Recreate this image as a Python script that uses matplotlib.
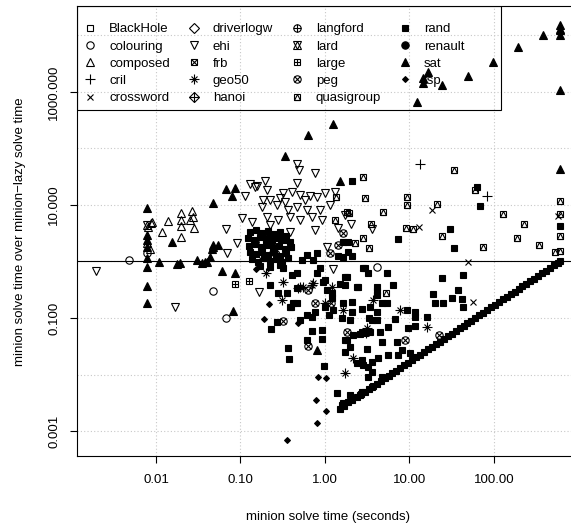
import matplotlib
matplotlib.use("Agg")
import matplotlib.pyplot as plt
from matplotlib.patches import Rectangle

plt.rcParams['font.family'] = ['Liberation Sans', 'DejaVu Sans']
plt.rcParams['font.size'] = 9.5

# ---- data (x = minion time, y = ratio) ----
blackhole_x = [0.2]
blackhole_y = [2.0]
colouring_x = [0.0048, 0.0078, 0.047, 0.067, 4.12]
colouring_y = [1.06, 1.41, 0.30, 0.1, 0.80]
composed_x = [0.0080, 0.0087, 0.0078, 0.0085, 0.0139, 0.0118, 0.0198, 0.0198,
              0.0198, 0.0198, 0.0267, 0.0274, 0.025, 0.0282, 0.009]
composed_y = [4.1, 4.8, 2.1, 1.66, 5.2, 3.33, 7.2, 5.4, 4.25, 2.7, 7.8, 6.1,
              5.4, 3.9, 5.0]
cril_x = [13.3, 82.6]
cril_y = [53, 14.4]
crossword_x = [18.5, 13.0, 49.2, 571, 56.4]
crossword_y = [8.2, 4.1, 0.98, 6.4, 0.192]
driverlogw_x = [0.25]
driverlogw_y = [1.5]
ehi_x = [0.00195, 0.0168, 0.166, 1.24, 0.466, 0.49, 0.76, 0.466, 0.13, 0.157,
         0.195, 0.206, 0.113, 0.318, 0.407, 0.51, 0.66, 1.0, 1.31, 0.185,
         0.223, 0.18, 0.27, 0.336, 0.466, 0.61, 0.80, 0.87, 0.104, 0.137,
         0.206, 0.278, 0.385, 0.51, 0.70, 0.92, 0.067, 0.091, 0.069, 1.06,
         2.03, 3.6, 0.148, 0.29, 0.58, 0.365, 1.15, 1.72, 1.42, 0.76, 0.385,
         0.223]
ehi_y = [0.68, 0.157, 0.29, 0.74, 53, 42, 37, 24.5, 23.5, 21.7,
         27, 18.4, 14.4, 16.3, 17, 15, 14.4, 16.3, 17, 12.3,
         12.3, 9.2, 10, 11.3, 9.2, 8.2, 13.9, 8.2, 5.9, 5.0,
         6.1, 5.4, 6.1, 5.4, 6.1, 5.4, 3.76, 2.1, 1.41, 1.8,
         4.6, 3.76, 20.8, 13.3, 12.3, 8.2, 10, 6.6, 3.9, 3.6, 3.33,
         4.4]
frb_x = [0.3]
frb_y = [2.5]
geo50_x = [0.2, 0.318, 0.31, 0.48, 0.70, 1.21, 1.63, 1.0, 3.14, 3.06, 3.7,
           2.14, 1.72, 7.72, 16.1, 0.51, 0.72, 0.55]
geo50_y = [0.63, 0.43, 0.208, 0.34, 0.38, 0.354, 0.139, 0.184, 0.067, 0.054,
           0.208, 0.0196, 0.0106, 0.139, 0.069, 0.354, 0.42, 0.354]
hanoi_x = [0.18]
hanoi_y = [1.3]
langford_x = [0.15]
langford_y = [2.2]
lard_x = [0.0078]
lard_y = [4.4]
large_x = [0.086, 0.126]
large_y = [0.40, 0.45]
peg_x = [0.318, 0.63, 1.82, 0.76, 0.63, 8.85, 22.3, 1.18, 1.63, 1.42, 1.15]
peg_y = [0.089, 0.032, 0.057, 0.184, 0.31, 0.041, 0.050, 0.184, 3.2, 1.96, 1.41]
quasigroup_x = [2.82, 33.6, 2.97, 9.34, 9.34, 21.1, 4.86, 1.92, 3.5, 9.09, 11.0,
                24.3, 2.82, 3.32, 2.26, 74.1, 59.6, 128, 226, 187, 341, 527,
                604, 604, 604, 604, 5.27, 1.82, 1.31, 1.35]
quasigroup_y = [31, 42, 13.3, 13.9, 10, 10.4, 7.5, 7.2, 4.6, 3.9, 3.76,
                2.83, 2.6, 1.73, 2.1, 1.8, 18.4, 6.9, 4.6, 2.6, 1.96, 1.47,
                11.8, 6.9, 2.83, 1.53, 0.277, 7.5, 5.4, 13.9]
rand_x = [2.09, 62.9, 68.3, 30.1, 7.31, 33.6, 1.87, 1.63, 2.09, 2.82, 604,
          3.23, 5.42, 1.72, 1.5, 1.0, 1.06, 1.21, 2.46, 4.12, 6.38, 4.73, 5.42,
          4.12, 2.74, 2.09, 1.59, 1.98, 3.32, 6.73, 11.6, 11.6, 16.1, 9.34,
          24.3, 43, 19, 20, 24.9, 37.5, 31.8, 41.8, 43, 3.41, 4.48, 5.57, 4.12,
          2.97, 2.59, 4.73, 7.11, 9.6, 11.6, 1.72, 1.72, 1.98, 2.39, 2.74, 2.82,
          3.23, 3.6, 4.24, 5.57, 7.31, 8.15, 10.1, 3.23, 3.6, 4.73, 0.92, 0.92,
          0.70, 0.61, 0.365, 0.375, 0.97, 0.70, 0.76, 0.51, 0.418, 0.396, 0.355,
          0.466, 1.39, 1.59, 1.98, 2.74, 2.59, 0.318, 0.407, 0.466, 0.61, 0.72,
          0.535, 0.80, 0.87, 0.80, 0.95, 0.23, 0.27, 0.61, 1.11, 1.24, 1.63,
          1.82, 2.14, 2.74, 3.14, 3.6, 3.6, 3.41, 2.09, 1.63, 1.0, 1.21, 1.72,
          1.82, 2.97, 2.39, 0.466, 0.385, 0.278, 0.223, 4.12, 4.12, 1.63, 1.42,
          1.87,
          # dense block around 0.1-0.4 s
          0.13, 0.153, 0.18, 0.211, 0.249, 0.29, 0.345, 0.123, 0.144, 0.17, 0.2,
          0.236, 0.278, 0.325, 0.385, 0.126, 0.148, 0.175, 0.206, 0.242, 0.285,
          0.336, 0.396, 0.13, 0.153, 0.18, 0.211, 0.249, 0.29, 0.345, 0.137,
          0.161, 0.19, 0.223, 0.263, 0.31, 0.365, 0.17, 0.223, 0.29]
rand_y = [27, 20.8, 9.6, 3.76, 2.5, 1.73, 2.2, 1.2, 1.25, 0.77, 4.25,
          0.63, 0.63, 0.53, 0.40, 0.47, 0.31, 0.277, 0.354, 0.30, 0.38, 0.184,
          0.184, 0.128, 0.144, 0.128, 0.1, 0.092, 0.1, 0.096, 0.128, 0.104, 0.104,
          0.139, 0.51, 0.58, 0.265, 0.184, 0.184, 0.31, 0.226, 0.217, 0.157,
          0.057, 0.057, 0.069, 0.092, 0.054, 0.052, 0.0376, 0.0376, 0.067, 0.072,
          0.041, 0.025, 0.0307, 0.016, 0.018, 0.0147, 0.0136, 0.011, 0.0196,
          0.022, 0.022, 0.0272, 0.024, 0.009, 0.006, 0.009, 0.061, 0.0425, 0.059,
          0.041, 0.0294, 0.0188, 0.0141, 0.104, 0.128, 0.092, 0.184, 0.157,
          0.277, 0.34, 0.0047, 0.0029, 0.0043, 0.0049, 0.0043, 0.77, 0.58, 0.63,
          1.30, 1.06, 1.06, 1.41, 0.77, 0.63, 0.43, 0.064, 0.085, 0.113, 0.113,
          0.139, 0.0031, 0.041, 0.050, 0.057, 0.0283, 0.0166, 0.092, 0.157,
          0.192, 0.184, 0.157, 0.226, 0.38, 0.53, 0.77, 0.354, 0.184, 0.157,
          0.277, 0.38, 0.354, 0.255, 2.2, 1.25, 1.5,
          3.33, 3.6, 3.2, 3.47, 3.07, 3.33, 2.83, 2.6, 2.4, 2.7, 2.5,
          2.3, 2.6, 2.4, 2.2, 1.88, 2.04, 1.8, 1.96, 1.73, 1.88,
          1.66, 1.8, 1.47, 1.36, 1.53, 1.30, 1.47, 1.25, 1.41, 1.11,
          0.98, 1.15, 1.02, 1.11, 0.98, 1.15, 0.83, 0.80, 0.87]
# rand instances where minion-lazy hit the 600 s limit
rand_timeout_x = [1.5, 1.7, 1.9, 2.1, 2.4, 2.7, 3.0, 3.3, 3.7, 4.1, 4.6, 5.1,
                  5.7, 6.3, 7.0, 7.8, 8.7, 9.7, 10.8, 12, 13.4, 15, 16.7, 18.6,
                  20.7, 23, 25.6, 28.5, 31.7, 35.3, 39.3, 43.7, 48.6, 54, 60,
                  67, 75, 83, 93, 103, 115, 128, 142, 158, 176, 196, 218, 243,
                  270, 300, 335, 372, 414, 461, 513, 570, 600]
rand_timeout_y = [0.0025, 0.0028, 0.0032, 0.0035, 0.004, 0.0045, 0.005, 0.0055,
                  0.0062, 0.0068, 0.0077, 0.0085, 0.0095, 0.0105, 0.0117, 0.013,
                  0.0145, 0.0162, 0.018, 0.02, 0.0223, 0.025, 0.0278, 0.031,
                  0.0345, 0.0383, 0.0427, 0.0475, 0.0528, 0.0588, 0.0655,
                  0.0728, 0.081, 0.09, 0.1, 0.112, 0.125, 0.138, 0.155, 0.172,
                  0.192, 0.213, 0.237, 0.263, 0.293, 0.327, 0.363, 0.405, 0.45,
                  0.5, 0.558, 0.62, 0.69, 0.768, 0.855, 0.95, 1.0]
renault_x = [0.22, 0.27]
renault_y = [2.8, 1.2]
sat_x = [0.0078, 0.0078, 0.0078, 0.0078, 0.0078, 0.0078, 0.0078, 0.0078,
         0.0109, 0.0177, 0.019, 0.0155, 0.0306, 0.035, 0.040, 0.0436, 0.047,
         0.047, 0.047, 0.054, 0.046, 0.038, 0.060, 0.086, 0.081, 0.80, 0.067,
         0.086, 0.079, 0.336, 0.63, 1.24, 1.5, 97, 16.6, 14.4, 14.4, 24.3, 49.2,
         12.3, 604, 604, 604, 604, 380, 192, 604, 604]
sat_y = [8.85, 2.94, 2.4, 1.8, 1.15, 0.80, 0.37, 0.184,
         0.98, 0.90, 0.94, 2.2, 1.06, 0.94, 0.98, 1.2, 1.8,
         10.8, 1.96, 1.96, 1.66, 0.98, 0.68, 0.63, 0.133, 0.0272, 19.2,
         20, 14.4, 74, 173, 272, 27, 3400, 2260, 1770, 1440, 1330, 1920,
         665, 15300, 12500, 10200, 1080, 10200, 6260, 43, 13000]
tsp_x = [0.153, 0.217, 0.19, 0.48, 0.83, 1.03, 0.78, 1.03, 0.80, 0.355]
tsp_y = [0.74, 0.177, 0.096, 0.082, 0.009, 0.0087, 0.0035, 0.0023, 0.0014, 0.0007]

xticks = [0.01, 0.1, 1, 10, 100]
xticklabels = ["0.01", "0.10", "1.00", "10.00", "100.00"]
yticks = [0.001, 0.1, 10, 1000]
yticklabels = ["0.001", "0.100", "10.000", "1000.000"]
decades = [1e-4, 1e-3, 1e-2, 1e-1, 1, 10, 100, 1e3, 1e4]

# R pch symbols rebuilt from matplotlib markers: (marker, size, filled)
SQ, CI, TR = 4.9, 5.3, 6.3
families = [
    ("BlackHole", blackhole_x, blackhole_y, [("s", SQ, False)]),
    ("colouring", colouring_x, colouring_y, [("o", CI, False)]),
    ("composed", composed_x, composed_y, [("^", TR, False)]),
    ("cril", cril_x, cril_y, [("+", 7, False)]),
    ("crossword", crossword_x, crossword_y, [("x", 5, False)]),
    ("driverlogw", driverlogw_x, driverlogw_y, [("D", 4.6, False)]),
    ("ehi", ehi_x, ehi_y, [("v", TR, False)]),
    ("frb", frb_x, frb_y, [("s", SQ, False), ("x", SQ, False)]),
    ("geo50", geo50_x, geo50_y, [("+", 6.5, False), ("x", 4.6, False)]),
    ("hanoi", hanoi_x, hanoi_y, [("D", 4.6, False), ("+", 6.5, False)]),
    ("langford", langford_x, langford_y, [("o", CI, False), ("+", CI, False)]),
    ("lard", lard_x, lard_y, [("^", TR, False), ("v", TR, False)]),
    ("large", large_x, large_y, [("s", SQ, False), ("+", SQ, False)]),
    ("peg", peg_x, peg_y, [("o", CI, False), ("x", 3.8, False)]),
    ("quasigroup", quasigroup_x, quasigroup_y, [("s", SQ, False), ("^", SQ, False)]),
    ("rand", rand_x + rand_timeout_x, rand_y + rand_timeout_y, [("s", SQ, True)]),
    ("renault", renault_x, renault_y, [("o", CI, True)]),
    ("sat", sat_x, sat_y, [("^", TR, True)]),
    ("tsp", tsp_x, tsp_y, [("D", 3.0, True)]),
]

fig = plt.figure(figsize=(5.71, 5.24), dpi=100)
ax = fig.add_axes([0.1349, 0.1298, 0.878, 0.8578])
ax.set_xscale("log")
ax.set_yscale("log")
ax.set_xlim(10 ** -2.935, 1000)
ax.set_ylim(10 ** -3.442, 10 ** 4.513)

for d in decades:
    ax.axvline(d, color="#c8c8c8", lw=0.8, ls=(0, (1, 2)), zorder=0)
    ax.axhline(d, color="#c8c8c8", lw=0.8, ls=(0, (1, 2)), zorder=0)
ax.axhline(1, color="black", lw=0.8, zorder=1)

handles, names = [], []
for name, xs, ys, parts in families:
    arts = []
    for m, ms, filled in parts:
        ln, = ax.plot(xs, ys, ls="none", marker=m, ms=ms, mew=0.8,
                      mec="black", mfc="black" if filled else "none", zorder=2)
        arts.append(ln)
    handles.append(tuple(arts))
    names.append(name)

ax.set_xticks(xticks)
ax.set_xticklabels(xticklabels)
ax.set_yticks(yticks)
ax.set_yticklabels(yticklabels, rotation=90, va="center")
ax.minorticks_off()
ax.tick_params(direction="out", length=5, width=0.8, labelsize=9.5)
ax.tick_params(axis="x", pad=8)
ax.tick_params(axis="y", pad=7)
for s in ax.spines.values():
    s.set_linewidth(0.8)

ax.set_xlabel("minion solve time (seconds)", fontsize=9.5, labelpad=18)
ax.set_ylabel("minion solve time over minion\u2212lazy solve time", fontsize=9.5,
              labelpad=16)

# legend box as drawn by R: transparent, square corners
leg = ax.legend(handles, names, ncol=4, loc="upper left",
                bbox_to_anchor=(0, 0.9777), borderaxespad=0, frameon=False,
                handlelength=1.0, handletextpad=0.94, columnspacing=1.3,
                labelspacing=0.38, borderpad=0.5, fontsize=9.5)
ax.add_patch(Rectangle((0, 0.7697), 0.845, 0.2303, transform=ax.transAxes,
                       fill=False, lw=0.8, ec="black", zorder=5))

fig.savefig("out.png", dpi=100)
